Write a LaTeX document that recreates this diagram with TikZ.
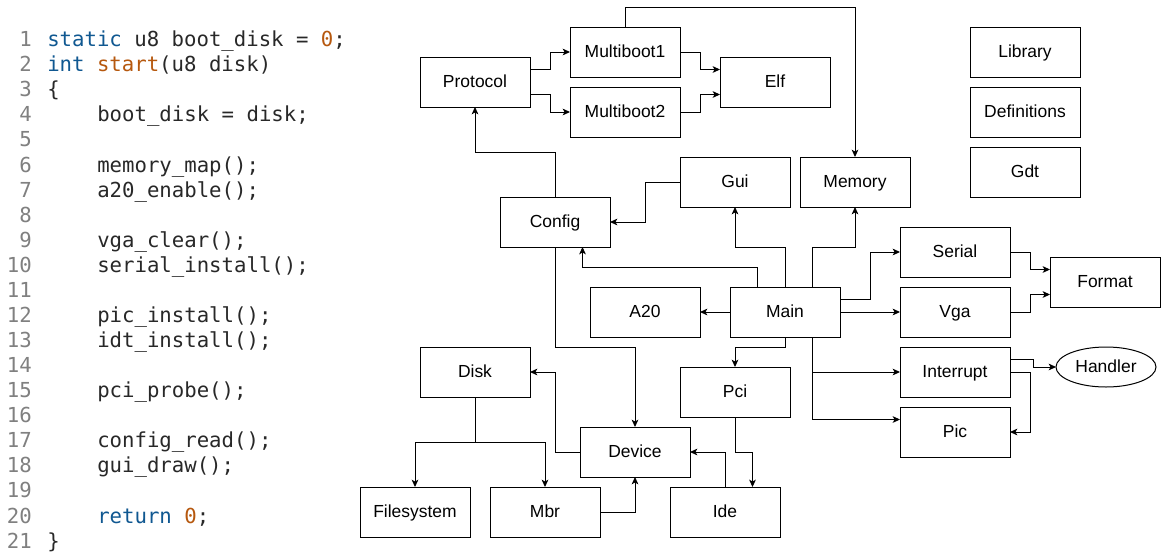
\documentclass[tikz,border=0pt]{standalone}
\usepackage{fontspec}
\setmainfont{Liberation Sans}
\newfontfamily\codefont{DejaVu Sans Mono}
\usetikzlibrary{arrows.meta,calc,shapes.geometric}
\definecolor{kwblue}{RGB}{16,88,145}
\definecolor{numorange}{RGB}{182,88,14}
\definecolor{codetext}{RGB}{40,40,40}
\definecolor{lnum}{RGB}{128,128,128}
\begin{document}
\begin{tikzpicture}[x=0.75pt,y=-0.75pt,
  box/.style={draw,line width=0.75pt,minimum width=82.5pt,minimum height=37.5pt,inner sep=0pt,outer sep=0pt,font=\fontsize{13.1}{15}\selectfont,text height=9.4pt,text depth=1.6pt},
  oval/.style={box,ellipse,minimum width=75pt,minimum height=30pt},
  arr/.style={line width=0.75pt,line join=miter,-{Stealth[length=5.5pt,width=5pt,inset=1.4pt]}},
  code/.style={anchor=base west,inner sep=0pt,font=\codefont\fontsize{15.5}{18}\selectfont,text=codetext},
  lno/.style={anchor=base east,inner sep=0pt,font=\codefont\fontsize{15.5}{18}\selectfont,text=lnum}]
\fill[white] (0,0) rectangle (1161,558);
\useasboundingbox (0,0) rectangle (1161,558);

% line numbers
\foreach \i in {1,...,21} \node[lno] (ln\i) at (32,{46.7+25.07*(\i-1)}) {\i};
% code
\node[code] (c1) at (47,46.7) {\textcolor{kwblue}{static} u8 boot\_disk = \textcolor{numorange}{0};};
\node[code] (c2) at (47,71.8) {\textcolor{kwblue}{int} \textcolor{numorange}{start}(u8 disk)};
\node[code] (c3) at (47,96.8) {\{};
\node[code] (c4) at (97,121.9) {boot\_disk = disk;};
\node[code] (c6) at (97,172.1) {memory\_map();};
\node[code] (c7) at (97,197.1) {a20\_enable();};
\node[code] (c9) at (97,247.3) {vga\_clear();};
\node[code] (c10) at (97,272.3) {serial\_install();};
\node[code] (c12) at (97,322.5) {pic\_install();};
\node[code] (c13) at (97,347.5) {idt\_install();};
\node[code] (c15) at (97,397.7) {pci\_probe();};
\node[code] (c17) at (97,447.8) {config\_read();};
\node[code] (c18) at (97,472.9) {gui\_draw();};
\node[code] (c20) at (97,523.0) {\textcolor{kwblue}{return} \textcolor{numorange}{0};};
\node[code] (c21) at (47,548.1) {\}};

% boxes
\node[box] (protocol) at (475,82) {Protocol};
\node[box] (mb1) at (625,52) {Multiboot1};
\node[box] (mb2) at (625,112) {Multiboot2};
\node[box] (elf) at (775,82) {Elf};
\node[box] (gui) at (735,182) {Gui};
\node[box] (memory) at (855,182) {Memory};
\node[box] (config) at (555,222) {Config};
\node[box] (library) at (1025,52) {Library};
\node[box] (definitions) at (1025,112) {Definitions};
\node[box] (gdt) at (1025,172) {Gdt};
\node[box] (serial) at (955,252) {Serial};
\node[box] (format) at (1105,282) {Format};
\node[box] (a20) at (645,312) {A20};
\node[box] (main) at (785,312) {Main};
\node[box] (vga) at (955,312) {Vga};
\node[box] (interrupt) at (955,372) {Interrupt};
\node[oval] (handler) at (1106,367) {Handler};
\node[box] (disk) at (475,372) {Disk};
\node[box] (pci) at (735,392) {Pci};
\node[box] (pic) at (955,432) {Pic};
\node[box] (device) at (635,452) {Device};
\node[box] (filesystem) at (415,512) {Filesystem};
\node[box] (mbr) at (545,512) {Mbr};
\node[box] (ide) at (725,512) {Ide};

% connectors
\draw[arr] (mb1.north) |- (855,7) -- (memory.north);
\draw[arr] ([yshift=9.375pt]protocol.east) -- ++(20,0) |- (mb1.west);
\draw[arr] ([yshift=-9.375pt]protocol.east) -- ++(20,0) |- (mb2.west);
\draw[arr] (mb1.east) -- ++(20,0) |- ([yshift=9.375pt]elf.west);
\draw[arr] (mb2.east) -- ++(20,0) |- ([yshift=-9.375pt]elf.west);
\draw[arr] (config.north) -- ++(0,-45) -| (protocol.south);
\draw[arr] (gui.west) -- ++(-35,0) |- (config.east);
\draw[arr] (main.north) -- ++(0,-40) -| (gui.south);
\draw[arr] ([xshift=20.625pt]main.north) -- ++(0,-40) -| (memory.south);
\draw[arr] ([xshift=-20.625pt]main.north) -- ++(0,-20) -| ([xshift=20.625pt]config.south);
\draw[arr] (main.west) -- (a20.east);
\draw[arr] ([yshift=9.375pt]main.east) -- ++(30,0) |- (serial.west);
\draw[arr] (main.east) -- (vga.west);
\draw[arr] ([xshift=20.625pt]main.south) |- (interrupt.west);
\draw[arr] ([xshift=20.625pt]main.south) |- ([yshift=9.375pt]pic.west);
\draw[arr] (main.south) -- ++(0,10) -| (pci.north);
\draw[arr] (config.south) -- ++(0,100) -| (device.north);
\draw[arr] (serial.east) -- ++(20,0) |- ([yshift=9.375pt]format.west);
\draw[arr] (vga.east) -- ++(20,0) |- ([yshift=-9.375pt]format.west);
\draw[arr] ([yshift=9.375pt]interrupt.east) -- ++(23,0) |- (handler.west);
\draw[arr] (interrupt.east) -- ++(20,0) |- (pic.east);
\draw[arr] (device.west) -- ++(-25,0) |- (disk.east);
\draw[arr] (disk.south) -- ++(0,45) -| (filesystem.north);
\draw[arr] (disk.south) -- ++(0,45) -| (mbr.north);
\draw[arr] (mbr.east) -| (device.south);
\draw[arr] (ide.north) |- (device.east);
\draw[arr] (pci.south) -- ++(0,35) -| ([xshift=20.625pt]ide.north);
\end{tikzpicture}
\end{document}
